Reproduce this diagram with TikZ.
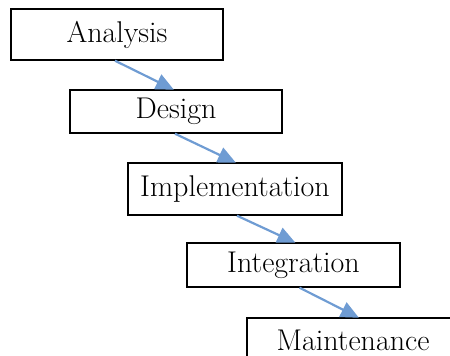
\documentclass[tikz,border=0pt]{standalone}
\usetikzlibrary{arrows.meta}
\definecolor{arrowblue}{HTML}{6F9CD3}
\begin{document}
\begin{tikzpicture}[x=1pt,y=1pt,
  phase/.style={draw=black, line width=1.4pt, fill=white, rectangle,
    inner sep=0pt, font=\fontsize{30}{36}\selectfont},
  flow/.style={draw=arrowblue, line width=2.2pt,
    -{Triangle[length=18pt,width=16pt]}, shorten <=0pt, shorten >=-1pt}]
\clip (0,0) rectangle (450,356);
\useasboundingbox (0,0) rectangle (450,356);
\node[phase, minimum width=212pt, minimum height=51pt] (a) at (117,321.5) {Analysis};
\node[phase, minimum width=212pt, minimum height=43pt] (d) at (176,244.5) {Design};
\node[phase, minimum width=214pt, minimum height=52pt] (i) at (235,167) {Implementation};
\node[phase, minimum width=213pt, minimum height=44pt] (g) at (293.5,91) {Integration};
\node[phase, minimum width=212pt, minimum height=44pt] (m) at (353,16) {Maintenance};
\draw[flow] ([xshift=-2pt]a.south) -- ([xshift=-3pt]d.north);
\draw[flow] ([xshift=-1pt]d.south) -- ([xshift=0pt]i.north);
\draw[flow] ([xshift=2pt]i.south) -- ([xshift=1pt]g.north);
\draw[flow] ([xshift=6pt]g.south) -- ([xshift=5pt]m.north);
\end{tikzpicture}
\end{document}
